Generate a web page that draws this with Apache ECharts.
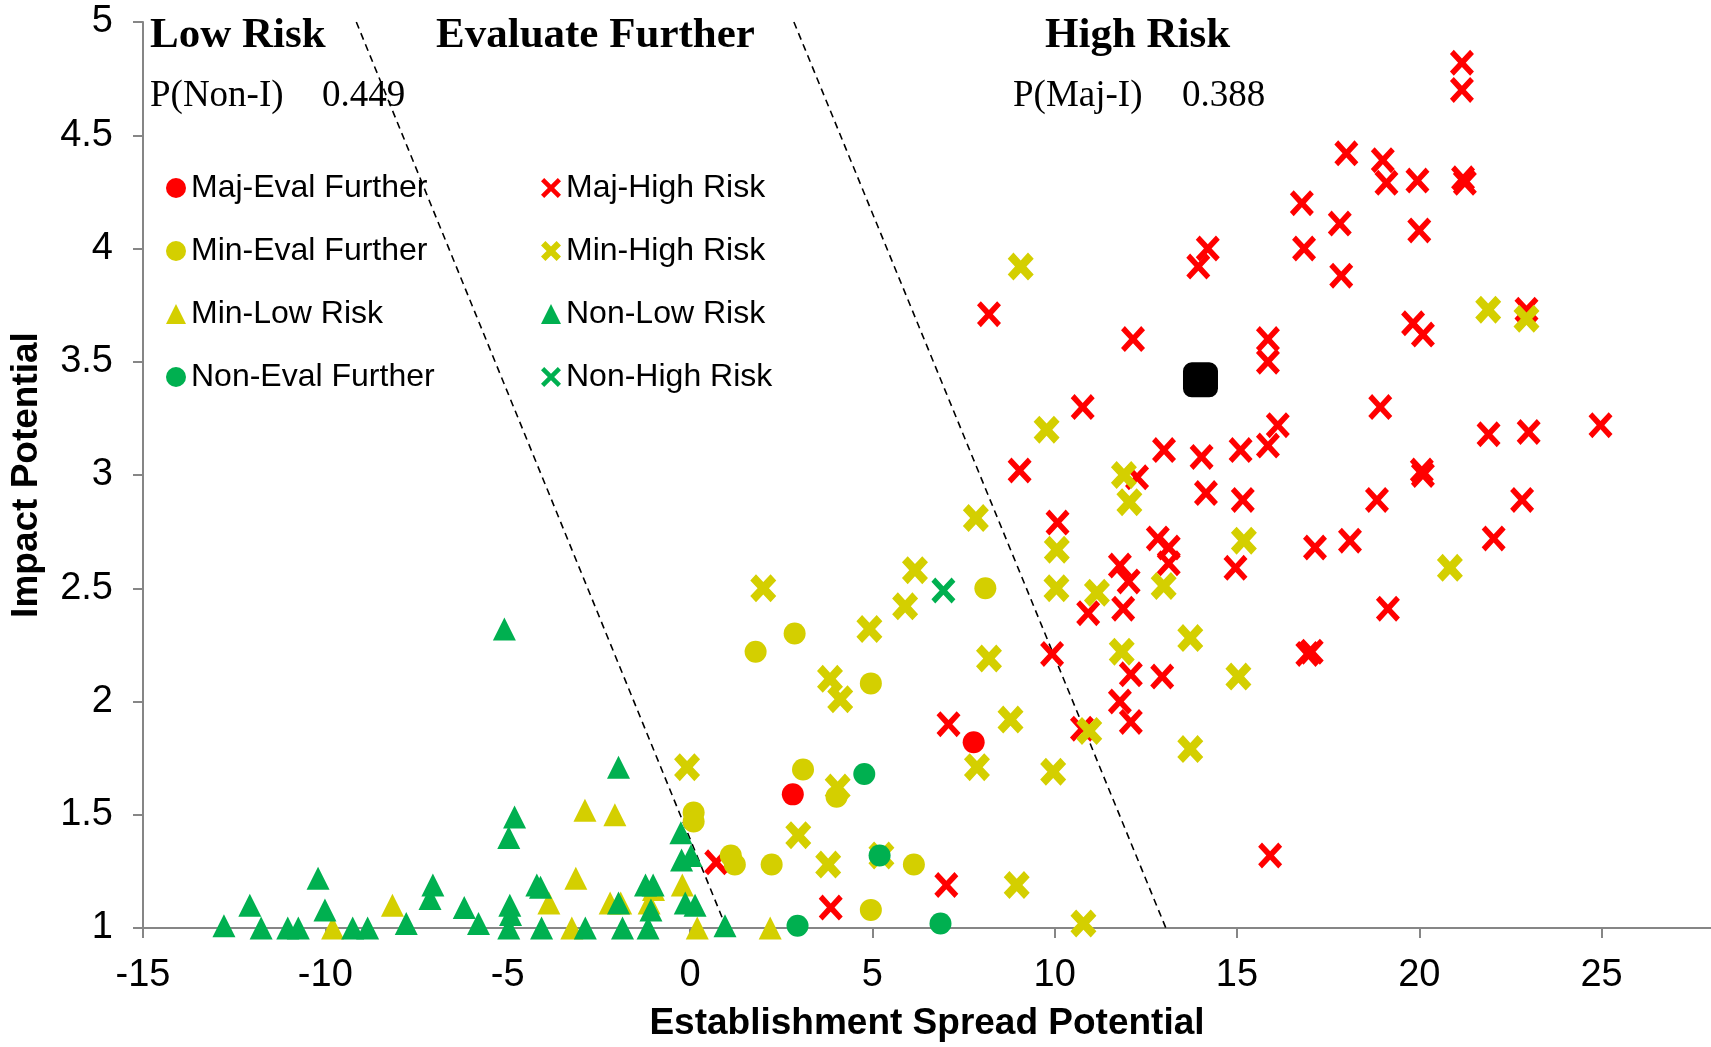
<!DOCTYPE html>
<html>
<head>
<meta charset="utf-8">
<script src="https://cdn.jsdelivr.net/npm/echarts@6/dist/echarts.min.js"></script>
<style>
  html, body { margin: 0; padding: 0; background: #fff; }
  #main { width: 1711px; height: 1047px; }
</style>
</head>
<body>
<div id="main"></div>
<script>
  // tick labels
  var xTicks = [-15, -10, -5, 0, 5, 10, 15, 20, 25];

  // [establishment spread, impact]
  var majEval = [[2.82, 1.59], [7.78, 1.82]];
  var minEval = [[8.1, 2.5], [2.87, 2.3], [1.8, 2.22], [4.96, 2.08], [3.1, 1.7], [4.02, 1.58],
    [0.1, 1.51], [0.1, 1.47], [1.12, 1.32], [1.23, 1.28], [2.24, 1.28], [6.14, 1.28], [4.96, 1.08]];
  var minLow = [[-2.88, 1.52], [-2.06, 1.5], [-3.13, 1.22], [-8.16, 1.1], [-9.8, 1.0], [-3.87, 1.11],
    [-3.24, 1.0], [-2.19, 1.11], [-1.9, 1.11], [-1.12, 1.11], [-1.0, 1.17], [-0.21, 1.19], [0.2, 1.0], [2.2, 1.0]];
  var nonEval = [[4.78, 1.68], [5.2, 1.32], [2.95, 1.01], [6.87, 1.02]];
  var majHigh = [[21.17, 4.82], [21.17, 4.7], [18.0, 4.42], [19.0, 4.39], [21.2, 4.31], [21.25, 4.29],
    [19.1, 4.29], [19.95, 4.3], [16.78, 4.2], [17.82, 4.11], [20.0, 4.08], [14.2, 4.0], [13.94, 3.92],
    [16.84, 4.0], [17.86, 3.88], [8.2, 3.71], [12.15, 3.6], [15.85, 3.6], [15.85, 3.5], [19.83, 3.67],
    [20.1, 3.62], [22.94, 3.73], [10.77, 3.3], [16.12, 3.22], [15.85, 3.13], [18.93, 3.3], [24.97, 3.22],
    [21.9, 3.18], [23.0, 3.19], [9.04, 3.02], [13.0, 3.11], [14.03, 3.08], [15.1, 3.11], [12.26, 2.99],
    [20.07, 3.02], [20.1, 3.0], [14.15, 2.92], [15.16, 2.89], [18.84, 2.89], [22.82, 2.89], [10.08, 2.79],
    [12.83, 2.72], [13.13, 2.68], [17.14, 2.68], [18.1, 2.71], [22.04, 2.72], [11.79, 2.6], [13.13, 2.61],
    [14.96, 2.59], [12.03, 2.53], [19.14, 2.41], [10.92, 2.39], [11.88, 2.41], [9.93, 2.21], [16.93, 2.21],
    [17.05, 2.22], [12.09, 2.12], [12.95, 2.11], [11.79, 2.0], [12.09, 1.91], [10.75, 1.88], [7.09, 1.9],
    [7.03, 1.19], [3.86, 1.09], [0.72, 1.29], [15.91, 1.32]];
  var minHigh = [[9.07, 3.92], [9.78, 3.2], [11.9, 3.0], [12.05, 2.88], [7.84, 2.81], [10.06, 2.67],
    [10.05, 2.5], [11.16, 2.48], [12.99, 2.51], [15.19, 2.71], [20.84, 2.59], [21.89, 3.73], [22.94, 3.69],
    [11.84, 2.22], [13.72, 2.28], [15.04, 2.11], [13.72, 1.79], [10.95, 1.87], [9.96, 1.69], [8.96, 1.19],
    [10.79, 1.02], [6.17, 2.58], [5.9, 2.42], [4.92, 2.32], [2.01, 2.5], [8.2, 2.19], [8.79, 1.92],
    [7.87, 1.71], [3.84, 2.1], [4.12, 2.01], [-0.08, 1.71], [4.05, 1.62], [2.97, 1.41], [3.79, 1.28], [5.25, 1.32]];
  var nonLow = [[-5.09, 2.32], [-1.96, 1.71], [-4.81, 1.49], [-4.97, 1.4], [-10.2, 1.22], [-12.07, 1.1],
    [-12.78, 1.01], [-11.76, 1.0], [-11.03, 1.0], [-10.74, 1.0], [-10.01, 1.08], [-9.25, 1.0], [-8.84, 1.0],
    [-7.78, 1.02], [-7.05, 1.19], [-7.13, 1.13], [-6.19, 1.09], [-5.8, 1.02], [-4.94, 1.1], [-4.92, 1.06],
    [-4.97, 1.0], [-4.2, 1.19], [-4.1, 1.18], [-4.07, 1.0], [-2.87, 1.0], [-1.96, 1.11], [-1.85, 1.0],
    [-1.22, 1.19], [-1.01, 1.19], [-1.07, 1.08], [-1.15, 1.0], [-0.25, 1.42], [-0.23, 1.3], [0.03, 1.32],
    [-0.13, 1.11], [0.14, 1.1], [0.96, 1.01]];
  var nonHigh = [[6.95, 2.49]];
  var target = [[14.0, 3.42]];

  // risk boundaries
  var boundaryLow = [[-9.15, 5], [1.0, 1]];
  var boundaryHigh = [[2.85, 5], [13.05, 1]];

  var RED = '#ff0000', YEL = '#d4cf00', GRN = '#00b050';
  var thinX = 'path://M0,1.6L1.6,0L5,3.4L8.4,0L10,1.6L6.6,5L10,8.4L8.4,10L5,6.6L1.6,10L0,8.4L3.4,5Z';
  var thickX = 'path://M0,2.2L2.2,0L5,2.8L7.8,0L10,2.2L7.2,5L10,7.8L7.8,10L5,7.2L2.2,10L0,7.8L2.8,5Z';

  function pts(name, data, symbol, size, color) {
    return {
      name: name, type: 'scatter', data: data, symbol: symbol, symbolSize: size,
      itemStyle: { color: color, opacity: 1 }, silent: true
    };
  }
  function dashed(data) {
    return {
      type: 'line', data: data, symbol: 'none', silent: true, z: 1,
      lineStyle: { color: '#000', width: 1.6, type: [7, 5] }
    };
  }

  var legendText = { fontSize: 32, fontFamily: 'Liberation Sans', color: '#000' };
  var serifBold = { fontSize: 43, fontFamily: 'Liberation Serif', fontWeight: 'bold', fill: '#000' };
  var serif = { fontSize: 37, fontFamily: 'Liberation Serif', fill: '#000' };

  var chart = echarts.init(document.getElementById('main'));
  chart.setOption({
    animation: false,
    backgroundColor: '#fff',
    grid: { left: 143, right: 0, top: 22, bottom: 109 },
    xAxis: {
      type: 'value', min: -15, max: 28, interval: 5,
      name: 'Establishment Spread Potential', nameLocation: 'middle', nameGap: 77,
      nameTextStyle: { fontSize: 37, fontWeight: 'bold', fontFamily: 'Liberation Sans', color: '#000' },
      splitLine: { show: false },
      axisLine: { onZero: false, lineStyle: { color: '#868686', width: 2 } },
      axisTick: { inside: false, length: 10, customValues: xTicks, lineStyle: { color: '#868686', width: 2 } },
      axisLabel: { customValues: xTicks, margin: 29, fontSize: 38, fontFamily: 'Liberation Sans', color: '#000' }
    },
    yAxis: {
      type: 'value', min: 1, max: 5, interval: 0.5,
      name: 'Impact Potential', nameLocation: 'middle', nameGap: 98,
      nameTextStyle: { fontSize: 37, fontWeight: 'bold', fontFamily: 'Liberation Sans', color: '#000' },
      splitLine: { show: false },
      axisLine: { show: true, onZero: false, lineStyle: { color: '#868686', width: 2 } },
      axisTick: { show: true, inside: false, length: 10, lineStyle: { color: '#868686', width: 2 } },
      axisLabel: { margin: 30, fontSize: 38, fontFamily: 'Liberation Sans', color: '#000' }
    },
    legend: [{
      data: ['Maj-Eval Further', 'Min-Eval Further', 'Min-Low Risk', 'Non-Eval Further'],
      orient: 'vertical', left: 161, top: 167, itemGap: 31, itemWidth: 20, itemHeight: 20,
      selectedMode: false, textStyle: legendText
    }, {
      data: ['Maj-High Risk', 'Min-High Risk', 'Non-Low Risk', 'Non-High Risk'],
      orient: 'vertical', left: 536, top: 167, itemGap: 31, itemWidth: 20, itemHeight: 20,
      selectedMode: false, textStyle: legendText
    }],
    graphic: [
      { type: 'text', left: 150, top: 14, style: Object.assign({ text: 'Low Risk' }, serifBold) },
      { type: 'text', left: 436, top: 14, style: Object.assign({ text: 'Evaluate Further' }, serifBold) },
      { type: 'text', left: 1045, top: 14, style: Object.assign({ text: 'High Risk' }, serifBold) },
      { type: 'text', left: 150, top: 78, style: Object.assign({ text: 'P(Non-I)' }, serif) },
      { type: 'text', left: 322, top: 78, style: Object.assign({ text: '0.449' }, serif) },
      { type: 'text', left: 1013, top: 78, style: Object.assign({ text: 'P(Maj-I)' }, serif) },
      { type: 'text', left: 1182, top: 78, style: Object.assign({ text: '0.388' }, serif) }
    ],
    series: [
      dashed(boundaryLow),
      dashed(boundaryHigh),
      pts('Maj-High Risk', majHigh, thinX, [24, 26], RED),
      pts('Min-High Risk', minHigh, thickX, [26, 28], YEL),
      pts('Min-Eval Further', minEval, 'circle', 22, YEL),
      pts('Maj-Eval Further', majEval, 'circle', 22, RED),
      pts('Min-Low Risk', minLow, 'triangle', 23, YEL),
      pts('Non-Low Risk', nonLow, 'triangle', 23, GRN),
      pts('Non-Eval Further', nonEval, 'circle', 22, GRN),
      pts('Non-High Risk', nonHigh, thinX, [24, 26], GRN),
      pts('target', target, 'roundRect', 35, '#000')
    ]
  });
</script>
</body>
</html>
